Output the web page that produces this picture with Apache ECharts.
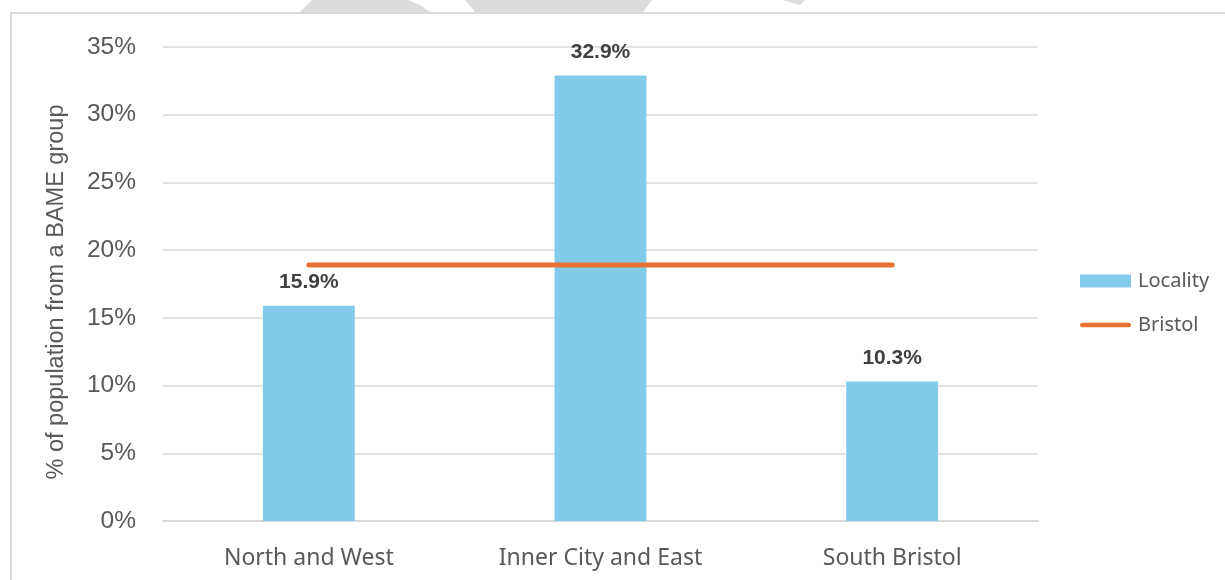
<!DOCTYPE html>
<html>
<head>
<meta charset="utf-8">
<script src="https://cdn.jsdelivr.net/npm/echarts@6/dist/echarts.min.js"></script>
<style>
html,body{margin:0;padding:0;background:#fff;}
#chart{width:1225px;height:580px;}
</style>
</head>
<body>
<div id="chart"></div>
<script>
const categories = ['North and West', 'Inner City and East', 'South Bristol'];
const localityValues = [15.9, 32.9, 10.3];
const bristolValues = [18.9, 18.9, 18.9];
const yTicks = [0, 5, 10, 15, 20, 25, 30, 35];
const seriesNames = ['Locality', 'Bristol'];
const yAxisTitle = '% of population from a BAME group';

const chart = echarts.init(document.getElementById('chart'), null, {renderer: 'canvas'});
const wm = '#dcdcdc';
chart.setOption({
  animation: false,
  backgroundColor: '#ffffff',
  graphic: [
    {type: 'polygon', shape: {points: [[312,0],[372,0],[357,12],[300,12]]}, style: {fill: wm}, silent: true},
    {type: 'polygon', shape: {points: [[370,0],[408,0],[420,5],[430,12],[355,12]]}, style: {fill: wm}, silent: true},
    {type: 'polygon', shape: {points: [[465,0],[652,0],[643,12],[475,12]]}, style: {fill: wm}, silent: true},
    {type: 'polygon', shape: {points: [[782,0],[805,0],[800,5]]}, style: {fill: wm}, silent: true},
    {type: 'line', shape: {x1: 10, y1: 13, x2: 1225, y2: 13}, style: {stroke: '#d9d9d9', lineWidth: 2}, silent: true},
    {type: 'line', shape: {x1: 11, y1: 12, x2: 11, y2: 580}, style: {stroke: '#d9d9d9', lineWidth: 2}, silent: true}
  ],
  grid: {left: 163, right: 187, top: 47, bottom: 59, containLabel: false},
  legend: {
    orient: 'vertical',
    left: 1075,
    top: 266,
    itemWidth: 51,
    itemHeight: 13,
    itemGap: 24,
    textStyle: {fontFamily: 'Noto Sans', fontSize: 20, color: '#595959', padding: [0,0,0,2]},
    data: [
      {name: seriesNames[0], icon: 'rect'},
      {name: seriesNames[1], icon: 'path://M2.5,0 L53.5,0 A2.5,2.5 0 0 1 53.5,5 L2.5,5 A2.5,2.5 0 0 1 2.5,0 Z', itemStyle: {color: '#E97132'}}
    ]
  },
  xAxis: {
    type: 'category',
    data: categories,
    boundaryGap: true,
    axisLine: {show: true, lineStyle: {color: '#d9d9d9', width: 2}},
    axisTick: {show: false},
    axisLabel: {fontFamily: 'Noto Sans', fontSize: 23, color: '#595959', margin: 26}
  },
  yAxis: {
    type: 'value',
    min: 0,
    max: 35,
    interval: 5,
    name: yAxisTitle,
    nameLocation: 'middle',
    nameGap: 94,
    nameRotate: 90,
    nameTextStyle: {fontFamily: 'Liberation Sans', fontSize: 23.5, color: '#595959', padding: [0, 16, 0, 0]},
    axisLine: {show: false},
    axisTick: {show: false},
    splitLine: {lineStyle: {color: '#d9d9d9', width: 1.5}},
    axisLabel: {
      fontFamily: 'Liberation Sans', fontSize: 24.5, color: '#595959', margin: 27,
      formatter: function (v) { return yTicks.indexOf(v) >= 0 ? v + '%' : ''; }
    }
  },
  series: [
    {
      name: seriesNames[0],
      type: 'bar',
      data: localityValues,
      barWidth: '31.5%',
      itemStyle: {color: '#83CBEB'},
      label: {
        show: true,
        position: 'top',
        distance: 13,
        formatter: function (p) { return p.value.toFixed(1) + '%'; },
        fontFamily: 'Liberation Sans',
        fontWeight: 'bold',
        fontSize: 21,
        color: '#404040'
      },
      z: 2
    },
    {
      name: seriesNames[1],
      type: 'line',
      data: bristolValues,
      symbol: 'none',
      showSymbol: false,
      lineStyle: {color: '#E97132', width: 5, cap: 'round'},
      itemStyle: {color: '#E97132'},
      z: 3
    }
  ]
});
</script>
</body>
</html>
